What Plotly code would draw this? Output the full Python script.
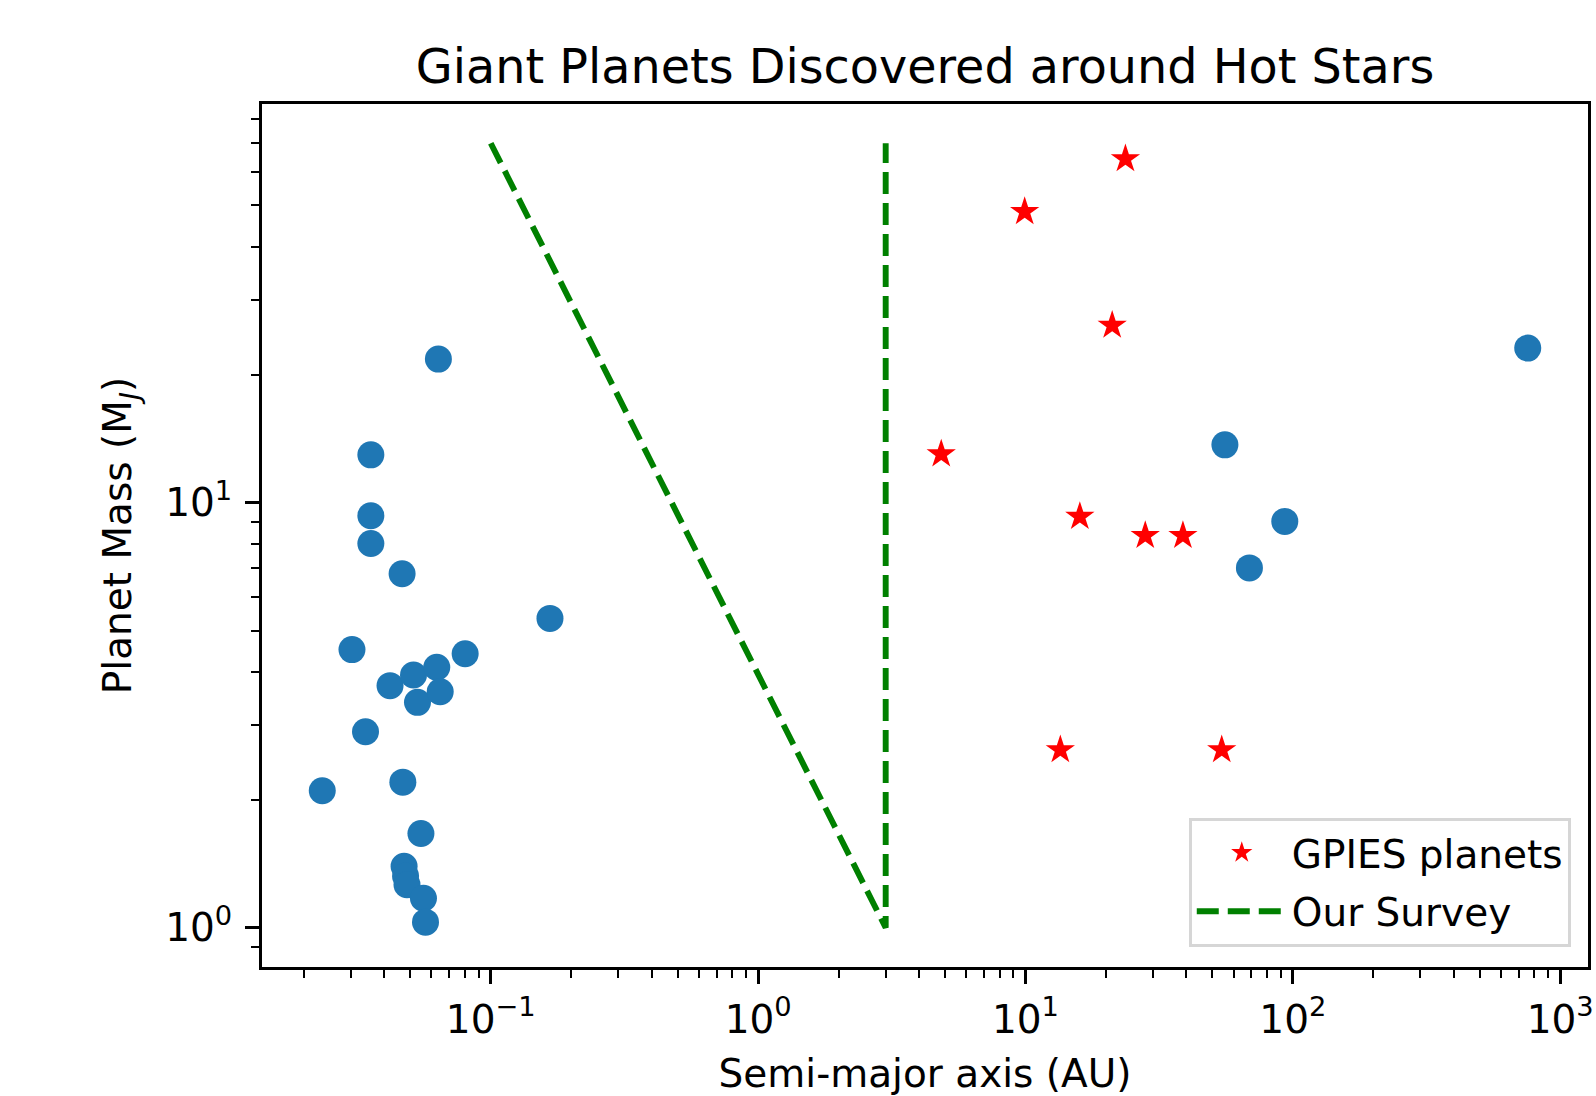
import numpy as np
import plotly.graph_objects as go

# Known giant planets around hot stars (blue dots)
known_a = [0.02343, 0.03026, 0.0340, 0.0356, 0.0356, 0.0356, 0.0420, 0.0466, 0.0469,
           0.0474, 0.0480, 0.0486, 0.0514, 0.0532, 0.0548, 0.0560, 0.0570, 0.0628,
           0.0637, 0.0647, 0.0802, 0.1665, 55.7, 68.8, 93.3, 756.0]
known_m = [2.10, 4.51, 2.89, 12.95, 9.31, 8.01, 3.71, 6.80, 2.20,
           1.395, 1.324, 1.263, 3.93, 3.39, 1.666, 1.173, 1.031, 4.10,
           21.75, 3.59, 4.41, 5.34, 13.67, 7.02, 9.03, 23.08]

# GPIES planets (red stars)
gpies_a = [4.84, 9.93, 13.5, 15.97, 21.1, 23.65, 28.05, 38.8, 54.2]
gpies_m = [13.0, 48.3, 2.62, 9.27, 26.1, 64.3, 8.36, 8.36, 2.62]

# Our survey boundary (green dashed)
survey_a = [0.1, 3.0, 3.0]
survey_m = [70.0, 1.0, 70.0]

x_tickvals = [0.1, 1, 10, 100, 1000]
x_ticktext = ["10<sup>\u22121</sup>", "10<sup>0</sup>", "10<sup>1</sup>", "10<sup>2</sup>", "10<sup>3</sup>"]
y_tickvals = [1, 10]
y_ticktext = ["10<sup>0</sup>", "10<sup>1</sup>"]

FONT = "DejaVu Sans"


def log_range(vals):
    lv = np.log10(np.asarray(vals, dtype=float))
    lo, hi = lv.min(), lv.max()
    pad = 0.05 * (hi - lo)
    return [lo - pad, hi + pad]


xr = log_range(known_a + gpies_a + survey_a)
yr = log_range(known_m + gpies_m + survey_m)


def minor_vals(lo, hi):
    out = []
    for e in range(int(np.floor(lo)) - 1, int(np.ceil(hi)) + 1):
        for k in range(2, 10):
            v = k * 10.0 ** e
            if 10 ** lo <= v <= 10 ** hi:
                out.append(v)
    return out


fig = go.Figure()
fig.add_trace(go.Scatter(
    x=known_a, y=known_m, mode="markers",
    marker=dict(color="#1f77b4", size=27, line=dict(width=0)),
    showlegend=False, name="Known planets"))
fig.add_trace(go.Scatter(
    x=gpies_a, y=gpies_m, mode="markers", name="GPIES planets", legendgroup="g1",
    marker=dict(color="#ff0000", symbol="star", size=22, line=dict(width=0))))
fig.add_trace(go.Scatter(
    x=survey_a, y=survey_m, mode="lines", name="Our Survey", legendgroup="g2",
    line=dict(color="#008000", width=5.9, dash="22px,9px")))

axis_common = dict(
    type="log", showgrid=False, zeroline=False, showline=True, mirror=True,
    linecolor="black", linewidth=3, ticks="outside", ticklen=14, tickwidth=3,
    tickcolor="black", tickfont=dict(family=FONT, size=39, color="black"),
    tickmode="array", ticklabeloverflow="allow",
)

fig.update_xaxes(
    range=xr, tickvals=x_tickvals, ticktext=x_ticktext, ticklabelstandoff=2,
    minor=dict(ticks="outside", ticklen=8, tickwidth=2.4, tickcolor="black",
               tickvals=minor_vals(*xr), showgrid=False),
    title=dict(text="Semi-major axis (AU)", font=dict(family=FONT, size=39, color="black"), standoff=22),
    **axis_common)
fig.update_yaxes(
    range=yr, tickvals=y_tickvals, ticktext=y_ticktext, ticklabelstandoff=5,
    minor=dict(ticks="outside", ticklen=8, tickwidth=2.4, tickcolor="black",
               tickvals=minor_vals(*yr), showgrid=False),
    title=dict(text="Planet Mass (M<sub><i>J</i></sub>)", font=dict(family=FONT, size=39, color="black"), standoff=22),
    **axis_common)

fig.update_layout(
    width=1596, height=1096,
    margin=dict(l=262, r=2, t=104, b=129),
    paper_bgcolor="white", plot_bgcolor="white",
    title=dict(text="Giant Planets Discovered around Hot Stars",
               font=dict(family=FONT, size=47.7, color="black"),
               x=0.5, xref="paper", xanchor="center",
               y=1 - 66 / 1096, yref="container", yanchor="middle"),
    legend=dict(x=0.987, xanchor="right", y=0.0235, yanchor="bottom",
                bgcolor="white", bordercolor="#d6d6d6", borderwidth=3,
                font=dict(family=FONT, size=39, color="black"), itemwidth=90,
                tracegroupgap=5),
    font=dict(family=FONT, color="black"),
)

fig.write_html("out.html")
